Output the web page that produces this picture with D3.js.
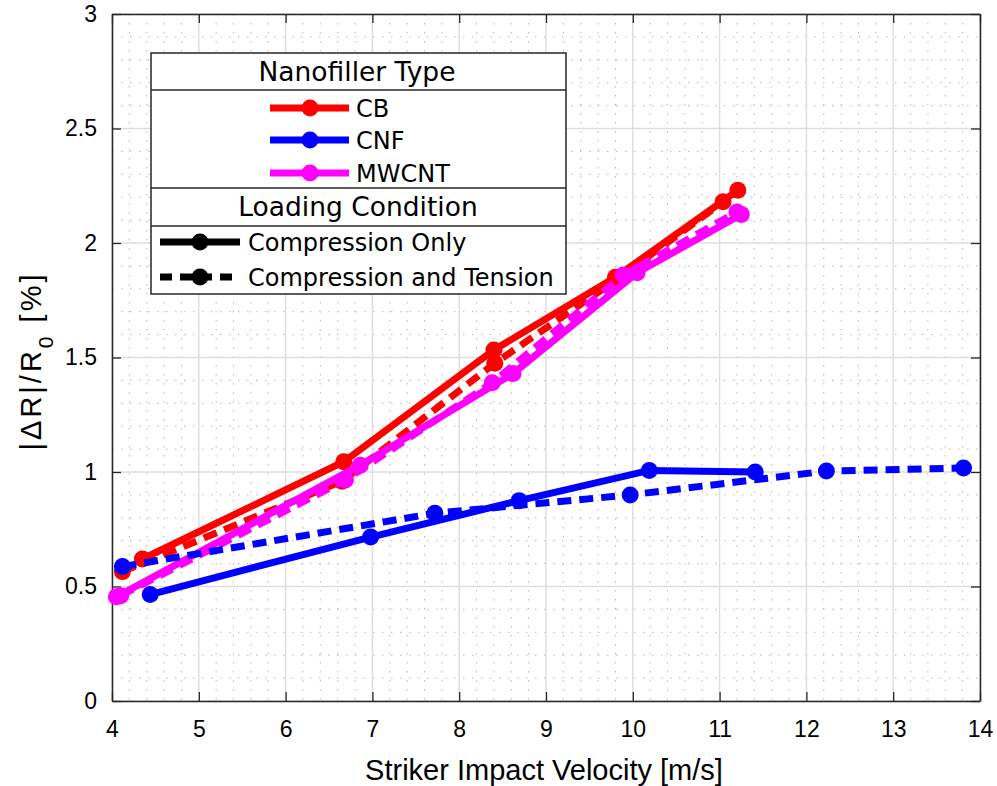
<!DOCTYPE html>
<html>
<head>
<meta charset="utf-8">
<script src="https://cdn.jsdelivr.net/npm/d3@7"></script>
<style>
  html, body { margin: 0; padding: 0; background: #fff; }
  svg { display: block; }
</style>
</head>
<body>
<svg id="chart" width="997" height="786"></svg>
<script>
// Relative resistance change vs. striker impact velocity
const xTicks = [4, 5, 6, 7, 8, 9, 10, 11, 12, 13, 14];
const yTicks = [0, 0.5, 1, 1.5, 2, 2.5, 3];
const yTickLabels = ["0", "0.5", "1", "1.5", "2", "2.5", "3"];

const cbCompV = [4.35, 6.67, 8.40, 9.80, 11.21];
const cbCompR = [0.62, 1.045, 1.533, 1.85, 2.23];
const cbCTV = [4.12, 6.65, 8.41, 9.85, 11.04];
const cbCTR = [0.565, 0.96, 1.475, 1.85, 2.18];

const mwCompV = [4.05, 6.86, 8.62, 10.05, 11.25];
const mwCompR = [0.455, 1.03, 1.43, 1.87, 2.125];
const mwCTV = [4.10, 6.69, 8.38, 9.89, 11.20];
const mwCTR = [0.46, 0.965, 1.39, 1.86, 2.135];

const cnfCompV = [4.44, 6.98, 8.69, 10.19, 11.41];
const cnfCompR = [0.465, 0.716, 0.875, 1.007, 1.0];
const cnfCTV = [4.12, 7.72, 9.97, 12.23, 13.81];
const cnfCTR = [0.587, 0.82, 0.90, 1.004, 1.017];

const fillerNames = ["CB", "CNF", "MWCNT"];
const fillerColors = ["#ff0000", "#0000ff", "#ff00ff"];
const loadingNames = ["Compression Only", "Compression and Tension"];

const series = [
  { v: cbCompV, r: cbCompR, color: fillerColors[0], dashed: false },
  { v: cbCTV, r: cbCTR, color: fillerColors[0], dashed: true },
  { v: mwCompV, r: mwCompR, color: fillerColors[2], dashed: false },
  { v: mwCTV, r: mwCTR, color: fillerColors[2], dashed: true },
  { v: cnfCompV, r: cnfCompR, color: fillerColors[1], dashed: false },
  { v: cnfCTV, r: cnfCTR, color: fillerColors[1], dashed: true }
];

const plotL = 112, plotR = 980, plotT = 14, plotB = 701;
const svg = d3.select("#chart");
const x = d3.scaleLinear().domain([4, 14]).range([plotL, plotR]);
const y = d3.scaleLinear().domain([0, 3]).range([plotB, plotT]);

const axisColor = "#262626";
const tickFont = "Liberation Sans, Arial, sans-serif";
const legendFont = "DejaVu Sans, Verdana, sans-serif";

// minor grid (dotted)
const g = svg.append("g");
const minorX = d3.range(4, 14.0001, 0.2).filter(v => Math.abs(v - Math.round(v)) > 1e-6);
const minorY = d3.range(0, 3.0001, 0.1).filter(v => Math.abs(v * 2 - Math.round(v * 2)) > 1e-6);
g.selectAll(".mx").data(minorX).enter().append("line")
  .attr("x1", d => x(d)).attr("x2", d => x(d)).attr("y1", plotT).attr("y2", plotB)
  .attr("stroke", "#b8b8b8").attr("stroke-width", 1).attr("stroke-dasharray", "1.5,7.5");
g.selectAll(".my").data(minorY).enter().append("line")
  .attr("y1", d => y(d)).attr("y2", d => y(d)).attr("x1", plotL).attr("x2", plotR)
  .attr("stroke", "#b8b8b8").attr("stroke-width", 1).attr("stroke-dasharray", "1.5,7.5");
// major grid
g.selectAll(".gx").data(xTicks).enter().append("line")
  .attr("x1", d => x(d)).attr("x2", d => x(d)).attr("y1", plotT).attr("y2", plotB)
  .attr("stroke", "#dedede").attr("stroke-width", 1.5);
g.selectAll(".gy").data(yTicks).enter().append("line")
  .attr("y1", d => y(d)).attr("y2", d => y(d)).attr("x1", plotL).attr("x2", plotR)
  .attr("stroke", "#dedede").attr("stroke-width", 1.5);

// axes
const xAxis = d3.axisBottom(x).tickValues(xTicks).tickSizeInner(-9).tickSizeOuter(0).tickPadding(20);
const xAxisTop = d3.axisTop(x).tickValues(xTicks).tickSizeInner(-9).tickSizeOuter(0).tickFormat("");
const yAxis = d3.axisLeft(y).tickValues(yTicks).tickSizeInner(-9).tickSizeOuter(0).tickPadding(15)
  .tickFormat((d, i) => yTickLabels[i]);
const yAxisRight = d3.axisRight(y).tickValues(yTicks).tickSizeInner(-9).tickSizeOuter(0).tickFormat("");

function styleAxis(sel) {
  sel.select(".domain").attr("stroke", axisColor).attr("stroke-width", 1.5);
  sel.selectAll(".tick line").attr("stroke", axisColor).attr("stroke-width", 1.3);
  sel.selectAll(".tick text").attr("fill", "#000").attr("font-family", tickFont).attr("font-size", 23);
}
svg.append("g").attr("transform", `translate(0,${plotB})`).call(xAxis).call(styleAxis);
svg.append("g").attr("transform", `translate(0,${plotT})`).call(xAxisTop).call(styleAxis);
svg.append("g").attr("transform", `translate(${plotL},0)`).call(yAxis).call(styleAxis);
svg.append("g").attr("transform", `translate(${plotR},0)`).call(yAxisRight).call(styleAxis);

// data lines
const lw = 7, mr = 8.5, dash = "14,8";
const line = d3.line().x(d => x(d[0])).y(d => y(d[1]));
const plot = svg.append("g");
series.forEach(s => {
  const pts = s.v.map((v, i) => [v, s.r[i]]);
  plot.append("path").datum(pts).attr("d", line)
    .attr("fill", "none").attr("stroke", s.color).attr("stroke-width", lw)
    .attr("stroke-dasharray", s.dashed ? dash : null);
  plot.selectAll(null).data(pts).enter().append("circle")
    .attr("cx", d => x(d[0])).attr("cy", d => y(d[1])).attr("r", mr).attr("fill", s.color);
});

// axis labels
svg.append("text").attr("x", 544).attr("y", 780).attr("text-anchor", "middle")
  .attr("font-family", tickFont).attr("font-size", 29).attr("fill", "#000")
  .text("Striker Impact Velocity [m/s]");
const yl = svg.append("text").attr("transform", "translate(41,361) rotate(-90)")
  .attr("text-anchor", "middle").attr("font-family", tickFont).attr("font-size", 29)
  .attr("letter-spacing", 3).attr("fill", "#000");
yl.append("tspan").text("|ΔR|/R");
yl.append("tspan").attr("baseline-shift", "sub").attr("font-size", 21).text("0");
yl.append("tspan").text(" [%]");

// legend
const lg = svg.append("g");
const lx0 = 151, lx1 = 566, ly0 = 53, ly1 = 294;
lg.append("rect").attr("x", lx0).attr("y", ly0).attr("width", lx1 - lx0).attr("height", ly1 - ly0)
  .attr("fill", "#fff").attr("stroke", axisColor).attr("stroke-width", 1.5);
[90, 188, 226].forEach(yy => {
  lg.append("line").attr("x1", lx0).attr("x2", lx1).attr("y1", yy).attr("y2", yy)
    .attr("stroke", axisColor).attr("stroke-width", 1.5);
});
lg.append("text").attr("x", 357).attr("y", 81).attr("text-anchor", "middle")
  .attr("font-family", legendFont).attr("font-size", 26.5).attr("fill", "#000").text("Nanofiller Type");
lg.append("text").attr("x", 358).attr("y", 216).attr("text-anchor", "middle")
  .attr("font-family", legendFont).attr("font-size", 26.5).attr("fill", "#000").text("Loading Condition");

const fillerY = [108, 140, 173];
fillerNames.forEach((name, i) => {
  const yy = fillerY[i];
  lg.append("line").attr("x1", 270).attr("x2", 349).attr("y1", yy).attr("y2", yy)
    .attr("stroke", fillerColors[i]).attr("stroke-width", lw);
  lg.append("circle").attr("cx", 310).attr("cy", yy).attr("r", mr).attr("fill", fillerColors[i]);
  lg.append("text").attr("x", 356).attr("y", yy + 9).attr("font-family", legendFont)
    .attr("font-size", 24).attr("fill", "#000").text(name);
});
const loadY = [242, 277];
loadingNames.forEach((name, i) => {
  const yy = loadY[i];
  lg.append("line").attr("x1", 160).attr("x2", 240).attr("y1", yy).attr("y2", yy)
    .attr("stroke", "#000").attr("stroke-width", lw)
    .attr("stroke-dasharray", i === 1 ? "12,8" : null);
  lg.append("circle").attr("cx", 200).attr("cy", yy).attr("r", mr).attr("fill", "#000");
  lg.append("text").attr("x", 248).attr("y", yy + 9).attr("font-family", legendFont)
    .attr("font-size", 24).attr("fill", "#000").text(name);
});
</script>
</body>
</html>
